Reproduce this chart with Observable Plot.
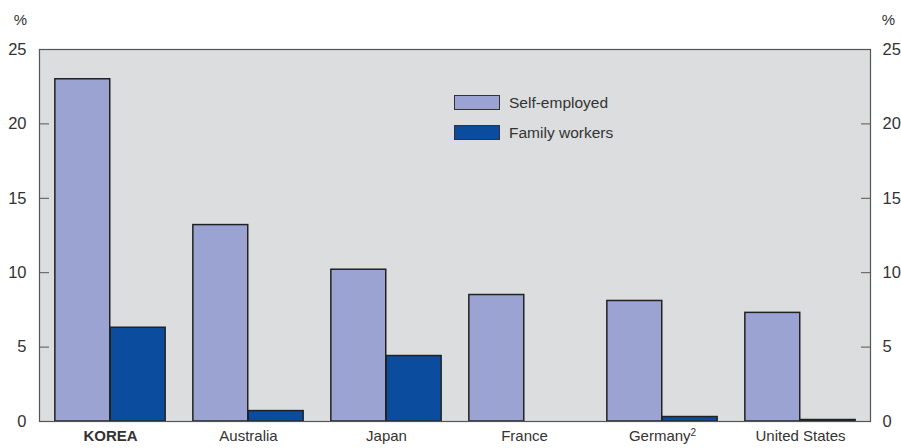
<!DOCTYPE html>
<html>
<head>
<meta charset="utf-8">
<script src="https://cdn.jsdelivr.net/npm/d3@7"></script>
<script src="https://cdn.jsdelivr.net/npm/@observablehq/plot@0.6"></script>
<style>
  html, body { margin: 0; padding: 0; background: #fff; }
  #wrap { position: relative; width: 901px; height: 448px; font-family: "Liberation Sans", Arial, sans-serif; }
  #wrap svg { display: block; }
  .legend { position: absolute; left: 454px; top: 95px; font-size: 15.5px; color: #333; }
  .legend .row { display: flex; align-items: center; height: 15px; margin-bottom: 15px; }
  .legend .sw { width: 44px; height: 13px; border: 1.5px solid #333; margin-right: 9px; box-sizing: content-box; }
</style>
</head>
<body>
<div id="wrap"></div>
<script>
const countries = ["Korea", "Australia", "Japan", "France", "Germany", "United States"];
const tickLabels = ["KOREA", "Australia", "Japan", "France", "Germany²", "United States"];
const selfEmployed = [23.0, 13.2, 10.2, 8.5, 8.1, 7.3];
const familyWorkers = [6.3, 0.7, 4.4, null, 0.3, 0.1];
const seriesNames = ["Self-employed", "Family workers"];
const seriesColors = ["#9ba3d3", "#0c4c9f"];
const yTicks = [0, 5, 10, 15, 20, 25];

const selfData = countries.map((c, i) => ({country: c, value: selfEmployed[i]}));
const famData = countries.map((c, i) => ({country: c, value: familyWorkers[i]})).filter(d => d.value != null);

const W = 901, H = 448, mL = 39, mR = 31;
const band = (W - mL - mR) / countries.length;
const barW = band * 0.4;
const pad = (band - 2 * barW) / 2;

const chart = Plot.plot({
  width: W,
  height: H,
  marginLeft: mL,
  marginRight: mR,
  marginTop: 49,
  marginBottom: 27,
  style: {fontFamily: "Liberation Sans, Arial, sans-serif", color: "#333", background: "#fff"},
  x: {domain: countries, padding: 0, axis: null},
  y: {domain: [0, 25], axis: null},
  marks: [
    Plot.frame({fill: "#dcdddf", stroke: null}),
    Plot.barY(selfData, {x: "country", y: "value", fill: seriesColors[0], stroke: "#222", strokeWidth: 1.5,
      insetLeft: pad, insetRight: pad + barW}),
    Plot.barY(famData, {x: "country", y: "value", fill: seriesColors[1], stroke: "#222", strokeWidth: 1.5,
      insetLeft: pad + barW, insetRight: pad}),
    Plot.frame({stroke: "#555", strokeWidth: 1.2}),
    Plot.axisY({anchor: "left", ticks: yTicks, tickSize: -10, tickPadding: 23, fontSize: 16.5, label: null, stroke: "#555"}),
    Plot.axisY({anchor: "right", ticks: yTicks, tickSize: -10, tickPadding: 22, fontSize: 16.5, label: null, stroke: "#555"}),
    Plot.axisX({anchor: "bottom", tickSize: 0, tickPadding: 9, fontSize: 15, label: null,
      tickFormat: d => tickLabels[countries.indexOf(d)]}),
    Plot.text(["%"], {frameAnchor: "top-left", dx: -19, dy: -29, fontSize: 15, textAnchor: "middle", lineAnchor: "middle", fill: "#333"}),
    Plot.text(["%"], {frameAnchor: "top-right", dx: 18, dy: -29, fontSize: 15, textAnchor: "middle", lineAnchor: "middle", fill: "#333"})
  ]
});

const wrap = document.getElementById("wrap");
wrap.appendChild(chart);

// bold KOREA label, real superscript for Germany²
d3.select(chart).selectAll("text").each(function() {
  const t = this.textContent;
  if (t === "KOREA") {
    d3.select(this).attr("font-weight", "bold").style("font-weight", "bold");
  } else if (t === "Germany²") {
    const sel = d3.select(this);
    const tspan = sel.select("tspan");
    const target = tspan.empty() ? sel : tspan;
    target.text("Germany");
    target.append("tspan").attr("baseline-shift", "super").attr("font-size", "10px").text("2");
  }
});

const legend = document.createElement("div");
legend.className = "legend";
seriesNames.forEach((name, i) => {
  const row = document.createElement("div");
  row.className = "row";
  const sw = document.createElement("div");
  sw.className = "sw";
  sw.style.background = seriesColors[i];
  const lab = document.createElement("span");
  lab.textContent = name;
  row.appendChild(sw);
  row.appendChild(lab);
  legend.appendChild(row);
});
wrap.appendChild(legend);
</script>
</body>
</html>
